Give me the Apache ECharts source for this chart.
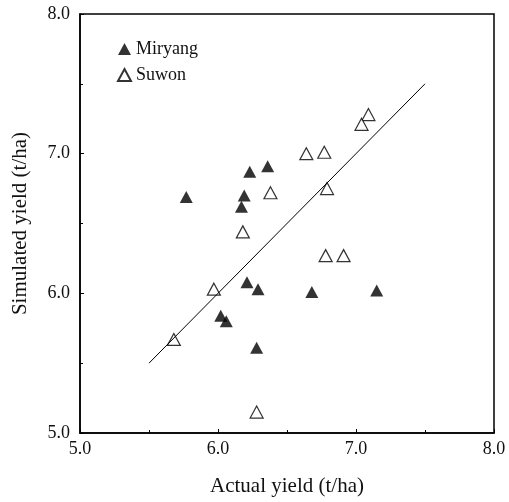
<!DOCTYPE html>
<html>
<head>
<meta charset="utf-8">
<script src="https://cdn.jsdelivr.net/npm/echarts@6/dist/echarts.min.js"></script>
<style>
  html, body {margin: 0; padding: 0; background: #fff;}
  #chart {width: 509px; height: 502px;}
</style>
</head>
<body>
<div id="chart"></div>
<script>
// actual yield, simulated yield (t/ha)
const miryangActual = [5.77, 6.23, 6.36, 6.19, 6.17, 6.21, 6.29, 6.68, 7.15, 6.02, 6.06, 6.28];
const miryangSim    = [6.69, 6.87, 6.91, 6.70, 6.62, 6.08, 6.03, 6.01, 6.02, 5.84, 5.80, 5.61];
const suwonActual = [7.09, 7.04, 6.64, 6.77, 6.38, 6.79, 6.18, 6.78, 6.91, 5.97, 5.68, 6.28];
const suwonSim    = [7.28, 7.21, 7.00, 7.01, 6.72, 6.75, 6.44, 6.27, 6.27, 6.03, 5.67, 5.15];
const lineX = [5.5, 7.5];
const lineY = [5.5, 7.5];

const font = '"Liberation Serif", "DejaVu Serif", serif';
const pairs = (xs, ys) => xs.map((x, i) => [x, ys[i]]);

const chart = echarts.init(document.getElementById('chart'));

const axisCommon = {
    min: 5,
    max: 8,
    interval: 1,
    axisLine: {show: true, lineStyle: {color: '#000', width: 1.5}},
    axisTick: {show: true, inside: true, length: 4, lineStyle: {color: '#000'}},
    minorTick: {show: true, splitNumber: 2, length: 3, lineStyle: {color: '#000'}},
    splitLine: {show: false},
    axisLabel: {
        color: '#111',
        fontFamily: font,
        fontSize: 18,
        formatter: v => v.toFixed(1)
    },
    nameTextStyle: {color: '#111', fontFamily: font, fontSize: 21}
};

chart.setOption({
    backgroundColor: '#fff',
    animation: false,
    grid: {left: 80, right: 15, top: 14, bottom: 68, show: true, borderColor: '#000', borderWidth: 1.5},
    legend: {
        orient: 'vertical',
        left: 112,
        top: 35,
        itemGap: 8,
        itemWidth: 13,
        itemHeight: 12,
        data: ['Miryang', 'Suwon'],
        textStyle: {color: '#111', fontFamily: font, fontSize: 18}
    },
    xAxis: Object.assign({}, axisCommon, {
        type: 'value',
        name: 'Actual yield (t/ha)',
        nameLocation: 'middle',
        nameGap: 43,
        axisLabel: Object.assign({}, axisCommon.axisLabel, {margin: 7})
    }),
    yAxis: Object.assign({}, axisCommon, {
        type: 'value',
        name: 'Simulated yield (t/ha)',
        nameLocation: 'middle',
        nameGap: 49,
        axisLabel: Object.assign({}, axisCommon.axisLabel, {margin: 10})
    }),
    series: [
        {
            name: 'fit',
            type: 'line',
            data: pairs(lineX, lineY),
            symbol: 'none',
            lineStyle: {color: '#000', width: 1},
            silent: true
        },
        {
            name: 'Miryang',
            type: 'scatter',
            symbol: 'triangle',
            symbolSize: [13, 12],
            data: pairs(miryangActual, miryangSim),
            itemStyle: {color: '#000'}
        },
        {
            name: 'Suwon',
            type: 'scatter',
            symbol: 'triangle',
            symbolSize: [13, 12],
            data: pairs(suwonActual, suwonSim),
            itemStyle: {color: '#fff', borderColor: '#000', borderWidth: 1.2}
        }
    ]
});
</script>
</body>
</html>
